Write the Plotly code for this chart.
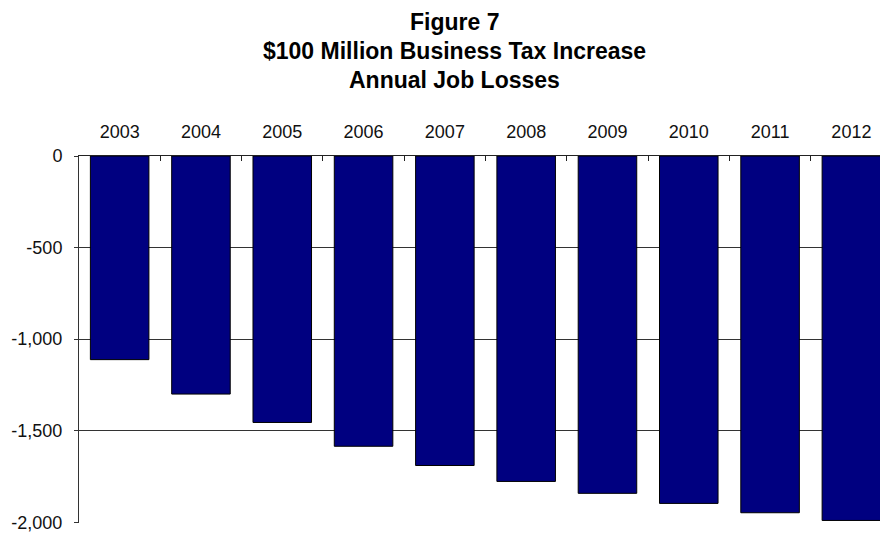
import plotly.graph_objects as go

# Annual job losses from a $100 million business tax increase
years = ["2003", "2004", "2005", "2006", "2007", "2008", "2009", "2010", "2011", "2012"]
job_losses = [-1112, -1300, -1455, -1585, -1690, -1777, -1842, -1897, -1948, -1990]

y_tick_values = [0, -500, -1000, -1500, -2000]
y_tick_labels = ["0", "-500", "-1,000", "-1,500", "-2,000"]

title_lines = ["Figure 7", "$100 Million Business Tax Increase", "Annual Job Losses"]

font_family = "Liberation Sans, Arial, sans-serif"

# plot area in pixels (top / bottom) used to place the title lines
plot_top, plot_bottom = 156, 523
title_centres_px = [22, 51, 80]

fig = go.Figure(
    go.Bar(
        x=years,
        y=job_losses,
        width=0.72,
        marker=dict(color="#000080", line=dict(color="#000000", width=1)),
    )
)

for line, py in zip(title_lines, title_centres_px):
    fig.add_annotation(
        text=line,
        xref="paper",
        yref="paper",
        x=(454 - 79) / (880 - 79),
        y=(plot_bottom - py) / (plot_bottom - plot_top),
        xanchor="center",
        yanchor="middle",
        showarrow=False,
        font=dict(family=font_family, size=23, color="#000000", weight="bold"),
    )

fig.update_layout(
    width=880,
    height=535,
    margin=dict(l=79, r=0, t=plot_top, b=535 - plot_bottom),
    paper_bgcolor="white",
    plot_bgcolor="white",
    showlegend=False,
    font=dict(family=font_family, size=18, color="#111111"),
)

fig.update_xaxes(
    type="category",
    side="top",
    range=[-0.5, 9.352],
    showline=True,
    linecolor="#222222",
    linewidth=1,
    ticks="inside",
    tickson="boundaries",
    ticklen=5,
    tickcolor="#222222",
    ticklabelstandoff=10,
    showgrid=False,
    zeroline=False,
)

fig.update_yaxes(
    range=[-2004, 0],
    tickvals=y_tick_values,
    ticktext=y_tick_labels,
    showline=True,
    linecolor="#333333",
    linewidth=1,
    ticks="outside",
    ticklen=4,
    tickcolor="#333333",
    ticklabelstandoff=8,
    ticklabeloverflow="allow",
    automargin=False,
    showgrid=True,
    gridcolor="#333333",
    gridwidth=1,
    zeroline=False,
)

fig.write_html("out.html")
